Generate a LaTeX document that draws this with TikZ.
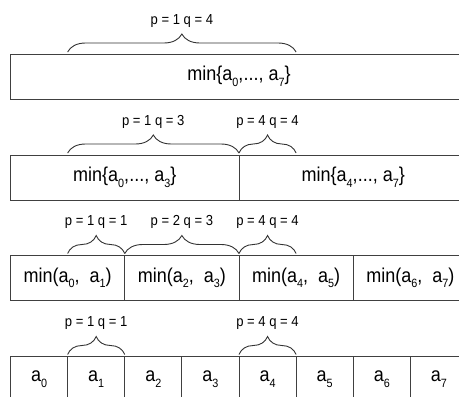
\documentclass[tikz,border=0pt]{standalone}
\usepackage{fontspec}
\setmainfont[FakeStretch=0.9]{Liberation Sans}
\usetikzlibrary{positioning,decorations.pathreplacing}

\newcommand\ix[1]{\raisebox{-0.28em}{\fontsize{12}{12}\selectfont #1}}

\begin{document}
\begin{tikzpicture}[x=1pt,y=-1pt,
    node distance=0pt,
    cell/.style={draw=black!75,line width=0.9pt,minimum height=45pt,
      inner sep=0pt,outer sep=0pt,font=\fontsize{20}{22}\selectfont},
    brace/.style={draw=black!80,line width=0.9pt,decorate,
      decoration={brace,amplitude=18pt,raise=2pt}},
    lbl/.style={font=\fontsize{14.5}{16}\selectfont,inner sep=1pt,above=25.5pt}]
  \useasboundingbox (0,0) rectangle (459,397);
  \clip (0,0) rectangle (459,397);
  % level 1
  \node[cell,minimum width=457pt,anchor=north west] (all) at (10.5,54) {min\{a\ix{0},..., a\ix{7}\}};
  % level 2
  \node[cell,minimum width=228.5pt,anchor=north west] (lo) at (10.5,155) {min\{a\ix{0},..., a\ix{3}\}};
  \node[cell,minimum width=228.5pt,right=of lo] (hi) {min\{a\ix{4},..., a\ix{7}\}};
  % level 3
  \node[cell,minimum width=114.25pt,anchor=north west] (m0) at (10.5,255.5) {min(a\ix{0},\ \ a\ix{1})};
  \node[cell,minimum width=114.25pt,right=of m0] (m1) {min(a\ix{2},\ \ a\ix{3})};
  \node[cell,minimum width=114.25pt,right=of m1] (m2) {min(a\ix{4},\ \ a\ix{5})};
  \node[cell,minimum width=114.25pt,right=of m2] (m3) {min(a\ix{6},\ \ a\ix{7})};
  % level 4
  \node[cell,minimum width=57.125pt,anchor=north west] (a0) at (10.5,356.5) {a\ix{0}};
  \node[cell,minimum width=57.125pt,right=of a0] (a1) {a\ix{1}};
  \node[cell,minimum width=57.125pt,right=of a1] (a2) {a\ix{2}};
  \node[cell,minimum width=57.125pt,right=of a2] (a3) {a\ix{3}};
  \node[cell,minimum width=57.125pt,right=of a3] (a4) {a\ix{4}};
  \node[cell,minimum width=57.125pt,right=of a4] (a5) {a\ix{5}};
  \node[cell,minimum width=57.125pt,right=of a5] (a6) {a\ix{6}};
  \node[cell,minimum width=57.125pt,right=of a6] (a7) {a\ix{7}};
  % query braces
  \draw[brace] (a1.north west |- all.north) -- node[lbl]{p = 1 q = 4} (a4.north east |- all.north);
  \draw[brace] (a1.north west |- lo.north) -- node[lbl]{p = 1 q = 3} (lo.north east);
  \draw[brace] (hi.north west) -- node[lbl]{p = 4 q = 4} (a4.north east |- hi.north);
  \draw[brace] (m0.north) -- node[lbl]{p = 1 q = 1} (m0.north east);
  \draw[brace] (m1.north west) -- node[lbl]{p = 2 q = 3} (m1.north east);
  \draw[brace] (m2.north west) -- node[lbl]{p = 4 q = 4} (m2.north);
  \draw[brace] (a1.north west) -- node[lbl]{p = 1 q = 1} (a1.north east);
  \draw[brace] (a4.north west) -- node[lbl]{p = 4 q = 4} (a4.north east);
\end{tikzpicture}
\end{document}
